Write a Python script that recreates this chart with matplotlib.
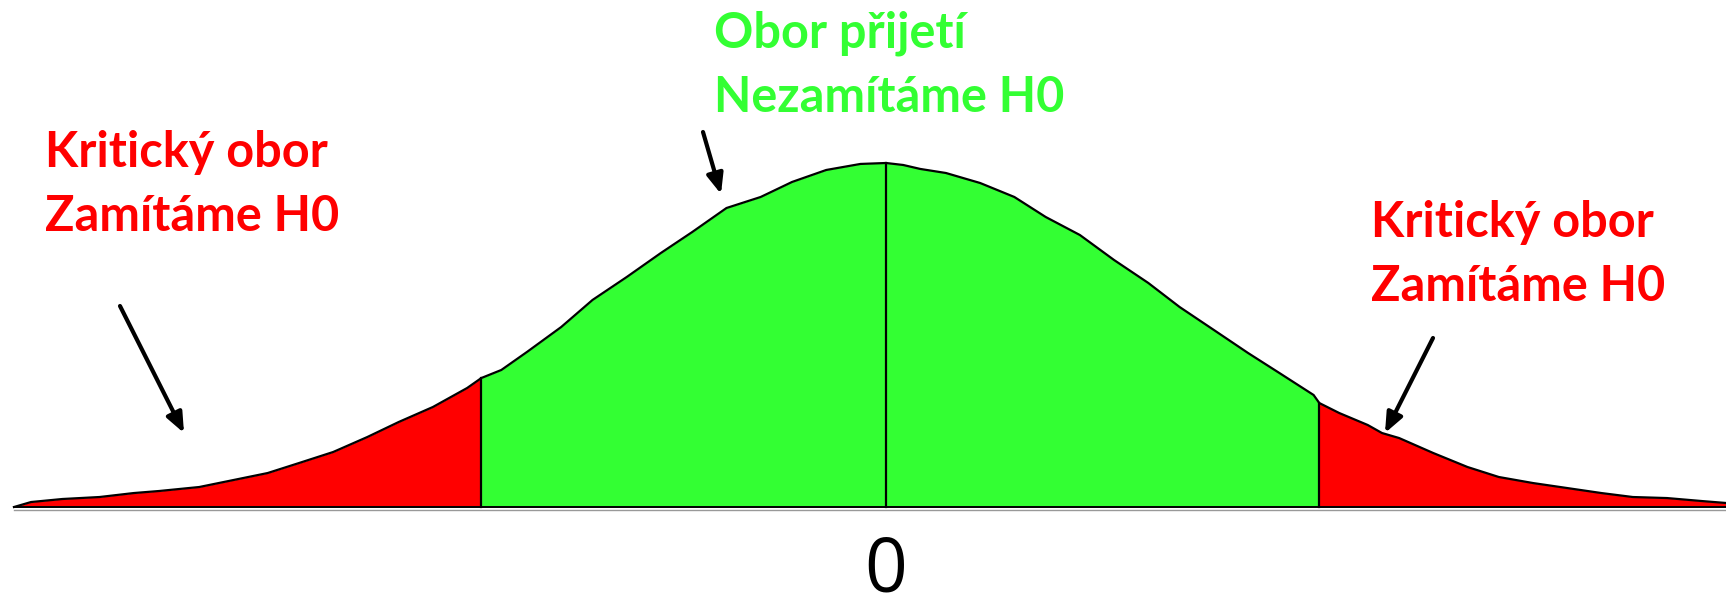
import numpy as np
import matplotlib
matplotlib.use('Agg')
import matplotlib.pyplot as plt

# curve: position in sigma units, density height
z_vals = [-3.06, -3.00, -2.89, -2.76, -2.64, -2.55, -2.41, -2.29, -2.17, -2.06,
          -1.94, -1.82, -1.71, -1.59, -1.47, -1.42, -1.35, -1.26, -1.14, -1.03,
          -0.91, -0.79, -0.68, -0.56, -0.44, -0.33, -0.21, -0.09, 0.00, 0.06,
          0.12, 0.21, 0.33, 0.45, 0.56, 0.68, 0.80, 0.92, 1.03, 1.15,
          1.27, 1.38, 1.50, 1.52, 1.59, 1.69, 1.74, 1.80, 1.92, 2.04,
          2.15, 2.27, 2.39, 2.51, 2.62, 2.74, 2.86, 2.95]
dens = [0.0000, 0.0058, 0.0093, 0.0116, 0.0162, 0.0186, 0.0232, 0.0313, 0.0394, 0.0510,
        0.0638, 0.0812, 0.0986, 0.1160, 0.1380, 0.1496, 0.1589, 0.1798, 0.2087, 0.2401,
        0.2667, 0.2946, 0.3189, 0.3467, 0.3595, 0.3769, 0.3908, 0.3978, 0.3989, 0.3966,
        0.3920, 0.3873, 0.3757, 0.3595, 0.3363, 0.3154, 0.2864, 0.2598, 0.2319, 0.2053,
        0.1786, 0.1554, 0.1299, 0.1206, 0.1090, 0.0951, 0.0858, 0.0800, 0.0626, 0.0464,
        0.0348, 0.0278, 0.0220, 0.0162, 0.0116, 0.0104, 0.0070, 0.0046]
crit_left = -1.42
crit_right = 1.52
center = 0.0

label_crit = ['Kritický obor', 'Zamítáme H0']
label_acc = ['Obor přijetí', 'Nezamítáme H0']
tick_label = '0'

RED = '#ff0000'
GREEN = '#33ff33'

W, H = 1726, 610
fig = plt.figure(figsize=(W / 100, H / 100), dpi=100)
ax = fig.add_axes([0, 0, 1, 1])
ax.set_xlim(-3.109, 2.947)
ax.set_ylim(-0.1194, 0.5879)
ax.axis('off')

z = np.array(z_vals)
d = np.array(dens)
i_l = z_vals.index(crit_left)
i_r = z_vals.index(crit_right)

ax.fill_between(z[:i_l + 1], 0, d[:i_l + 1], color=RED, lw=0)
ax.fill_between(z[i_l:i_r + 1], 0, d[i_l:i_r + 1], color=GREEN, lw=0)
ax.fill_between(z[i_r:], 0, d[i_r:], color=RED, lw=0)
ax.plot(z, d, color='black', lw=1.6, solid_joinstyle='miter')

for c in (crit_left, center, crit_right):
    ax.plot([c, c], [0, d[z_vals.index(c)]], color='black', lw=1.6)

ax.plot([z[0], 2.947], [0, 0], color='black', lw=1.4)
ax.plot([z[0], 2.947], [-0.004, -0.004], color='#999999', lw=1.0)


def px(x, y):
    # top-left pixel -> figure fraction
    return x / W, 1 - y / H


font = dict(family=['Lato', 'DejaVu Sans'], fontweight='bold', fontsize=35)

for line, y in zip(label_crit, (167, 231)):
    fig.text(*px(45, y), line, color=RED, ha='left', va='baseline', **font)
for line, y in zip(label_acc, (47, 112)):
    fig.text(*px(714, y), line, color=GREEN, ha='left', va='baseline', **font)
for line, y in zip(label_crit, (237, 301)):
    fig.text(*px(1371, y), line, color=RED, ha='left', va='baseline', **font)

fig.text(*px(886, 609), tick_label, color='black', ha='center', va='bottom',
         family=['Open Sans', 'DejaVu Sans'], fontsize=54)

arrows = [((120, 306), (184, 433)), ((703, 132), (721, 194)), ((1433, 338), (1385, 433))]
for tail, tip in arrows:
    ax.annotate('', xy=px(*tip), xycoords='figure fraction',
                xytext=px(*tail), textcoords='figure fraction',
                arrowprops=dict(arrowstyle='-|>,head_length=1.2,head_width=0.5',
                                color='black', lw=3, shrinkA=0, shrinkB=0))

fig.savefig('out.png', dpi=100)
